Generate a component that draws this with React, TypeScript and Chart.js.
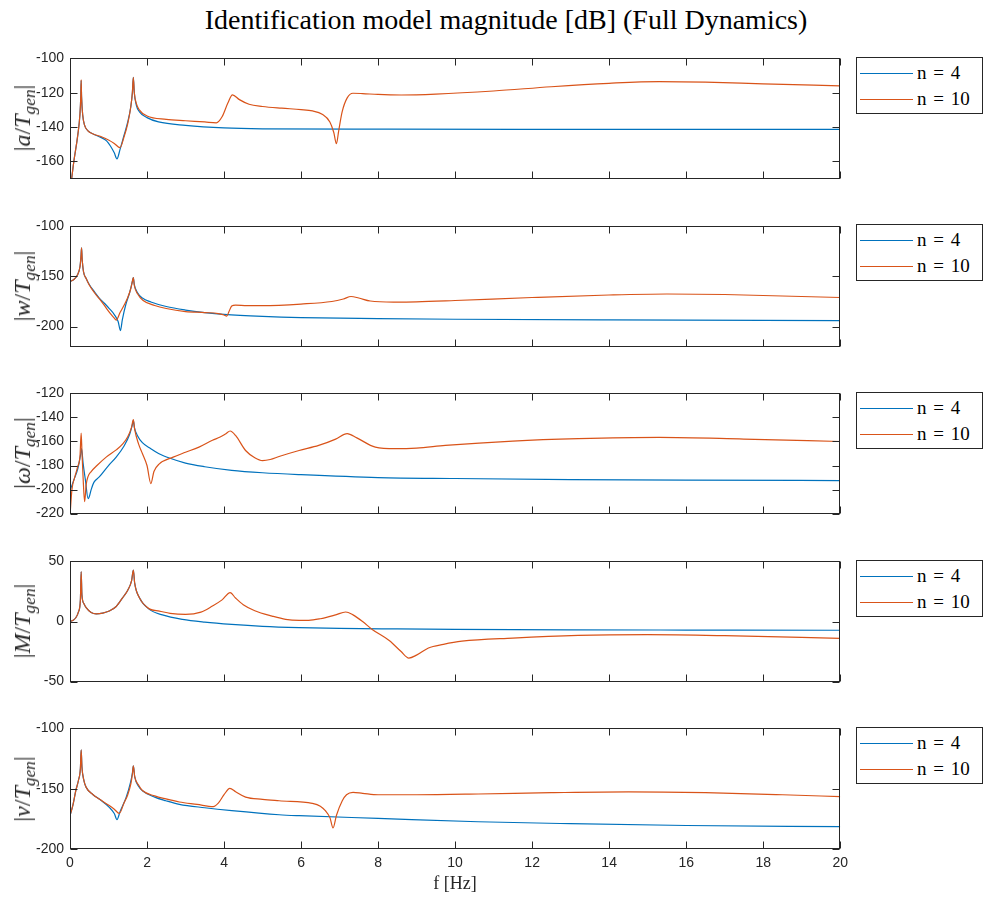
import React, { useEffect, useRef } from "react";
import { Chart, registerables } from "chart.js";
Chart.register(...registerables);

// ---------- data ----------
const TITLE = "Identification model magnitude [dB] (Full Dynamics)";
const X_LABEL = "f [Hz]";
const LEGEND_LABELS = ["n = 4", "n = 10"];
const X_TICKS = [0, 2, 4, 6, 8, 10, 12, 14, 16, 18, 20];

// |a/Tgen|
const A_TICKS = [-160, -140, -120, -100];
const A_N4: [number, number][] = [[0,-178],[0.1,-160],[0.2,-145],[0.26,-132],[0.28,-122],[0.29,-113],[0.3,-122],[0.33,-133],[0.38,-139],[0.46,-142],[0.6,-144],[0.8,-146],[0.95,-148],[1.05,-151],[1.15,-155],[1.22,-158.5],[1.3,-153],[1.4,-145],[1.5,-137],[1.58,-128],[1.62,-120],[1.645,-111],[1.67,-120],[1.72,-127],[1.8,-131],[2.0,-134.5],[2.3,-137],[3,-139],[4,-140.5],[5,-141],[8,-141.2],[12,-141.3],[20,-141.3]];
const A_N10: [number, number][] = [[0,-178],[0.1,-160],[0.2,-145],[0.26,-132],[0.28,-122],[0.29,-112.5],[0.3,-122],[0.33,-133],[0.38,-139],[0.46,-142],[0.6,-144],[0.8,-145.5],[1.0,-147.5],[1.15,-149.5],[1.3,-152],[1.4,-146],[1.5,-138],[1.58,-128],[1.62,-120],[1.645,-111],[1.67,-120],[1.72,-126],[1.8,-130],[2.0,-133.5],[2.5,-135.5],[3,-136.3],[3.5,-137],[3.8,-137.5],[3.95,-134],[4.1,-126],[4.22,-121.2],[4.4,-124],[4.65,-126.7],[5,-128],[5.5,-129],[6.0,-129.8],[6.3,-130.6],[6.55,-132.5],[6.75,-137],[6.85,-143],[6.92,-149.7],[6.98,-142],[7.07,-131],[7.2,-123],[7.35,-120.3],[7.6,-120.5],[8,-121],[8.6,-121.3],[9.5,-120.8],[11,-119],[12.5,-116.5],[14,-114.5],[15.3,-113.5],[16.5,-113.8],[18,-114.8],[20,-116]];

// |w/Tgen|
const W_TICKS = [-200, -150, -100];
const W_N4: [number, number][] = [[0,-155],[0.1,-153],[0.2,-148],[0.26,-140],[0.285,-130],[0.3,-121.5],[0.315,-132],[0.35,-145],[0.42,-152],[0.5,-158],[0.65,-166],[0.76,-171.5],[0.9,-177],[1.02,-182],[1.15,-188],[1.25,-195],[1.31,-204],[1.36,-193],[1.45,-178],[1.55,-166],[1.62,-155],[1.645,-151],[1.67,-158],[1.75,-166],[1.88,-171.5],[2.1,-175.5],[2.5,-180],[3.0,-183.5],[3.5,-186],[4,-187.8],[5,-189.8],[6,-191],[8,-192],[10,-192.7],[14,-193.4],[20,-194]];
const W_N10: [number, number][] = [[0,-155],[0.1,-153],[0.2,-148],[0.26,-140],[0.285,-130],[0.3,-121.5],[0.315,-132],[0.35,-145],[0.42,-152],[0.5,-158.5],[0.65,-167],[0.8,-174],[0.95,-182],[1.05,-187],[1.15,-191.5],[1.2,-193.5],[1.3,-186],[1.4,-179],[1.5,-171],[1.58,-162],[1.63,-153],[1.645,-151],[1.67,-159],[1.75,-167],[1.9,-174],[2.2,-179],[2.5,-182],[3.0,-185],[3.5,-186],[3.85,-187],[4.0,-188.5],[4.07,-189.5],[4.13,-185],[4.2,-179.5],[4.3,-178.5],[4.6,-179],[5,-179],[6,-177.5],[6.8,-175],[7.1,-172.5],[7.3,-170],[7.5,-171.5],[7.8,-174.5],[8.4,-175.5],[9,-175.3],[10,-174],[12,-171],[14,-168.5],[15.5,-167.5],[17,-168],[18.5,-169.5],[20,-171]];

// |omega/Tgen|
const O_TICKS = [-220, -200, -180, -160, -140, -120];
const O_N4: [number, number][] = [[0,-201],[0.1,-192],[0.2,-183],[0.27,-172],[0.3,-166],[0.34,-178],[0.4,-192],[0.47,-207.5],[0.5,-206],[0.55,-200],[0.62,-194],[0.76,-189.5],[1.0,-180],[1.2,-173],[1.4,-164],[1.55,-154],[1.62,-146],[1.645,-142.4],[1.67,-148],[1.75,-155],[1.88,-161],[2.1,-166],[2.3,-170],[2.6,-174],[3.0,-178],[3.5,-181],[4.2,-184],[5,-186],[6,-187.6],[8,-190],[10,-190.8],[13,-191.7],[16,-192.2],[20,-192.5]];
const O_N10: [number, number][] = [[0,-222],[0.05,-200],[0.12,-190],[0.2,-181],[0.26,-172],[0.29,-153],[0.31,-168],[0.34,-190],[0.38,-210],[0.42,-196],[0.47,-189],[0.55,-185],[0.7,-180],[0.94,-173],[1.2,-167],[1.37,-162],[1.5,-156],[1.6,-148],[1.645,-141.7],[1.68,-150],[1.78,-162],[1.88,-170],[2.0,-180],[2.1,-195],[2.18,-185],[2.32,-178.6],[2.68,-173],[3.0,-169],[3.35,-164.7],[3.7,-159],[3.9,-156.3],[4.05,-153.5],[4.16,-151.3],[4.3,-155],[4.56,-167.5],[4.8,-173.5],[5.0,-175.9],[5.2,-175],[5.43,-172.5],[5.95,-167.5],[6.46,-163.3],[6.9,-158],[7.2,-153.5],[7.45,-157],[7.93,-164.7],[8.45,-166],[9,-165.5],[9.75,-163.3],[11.5,-159.7],[13.2,-157.7],[15.3,-156.6],[17.5,-158],[20,-160]];

// |M/Tgen|
const M_TICKS = [-50, 0, 50];
const M_N4: [number, number][] = [[0,0],[0.08,1],[0.15,3.1],[0.22,8],[0.27,18],[0.29,41.6],[0.31,22],[0.36,15],[0.42,11.5],[0.55,7.5],[0.68,6.4],[0.85,7],[1.02,8.7],[1.2,12.5],[1.37,19.9],[1.5,26],[1.6,34],[1.645,42.8],[1.68,32],[1.8,19.9],[2.06,10.1],[2.4,5.5],[2.92,1.8],[3.5,-0.5],[4.2,-2.4],[5,-4],[5.95,-5.1],[7,-5.8],[8.5,-6.2],[10,-6.5],[13,-6.9],[16,-7.1],[20,-7.3]];
const M_N10: [number, number][] = [[0,0],[0.08,1],[0.15,3.1],[0.22,8],[0.27,18],[0.29,41.6],[0.31,22],[0.36,15],[0.42,11.5],[0.55,7.5],[0.68,6.4],[0.85,7],[1.02,8.7],[1.2,12.5],[1.37,19.9],[1.5,26],[1.6,34],[1.645,42.8],[1.68,32],[1.8,19.9],[2.06,10.5],[2.32,8.7],[2.6,6.8],[3.0,5.9],[3.4,7.8],[3.7,12.9],[3.95,18],[4.16,24],[4.3,19.5],[4.5,14],[4.8,9],[5.25,4.5],[5.6,1.8],[5.95,1.0],[6.2,1.0],[6.5,2.3],[6.9,5.5],[7.16,7.9],[7.35,5.5],[7.6,0],[7.85,-6.6],[8.3,-16],[8.6,-25],[8.8,-30.4],[9.0,-28],[9.31,-22],[9.7,-19],[10.18,-16.4],[11.5,-13.8],[13.2,-11.6],[15,-11],[17,-11.8],[20,-14]];

// |v/Tgen|
const V_TICKS = [-200, -150, -100];
const V_N4: [number, number][] = [[0,-172.4],[0.08,-163],[0.15,-151.7],[0.22,-143],[0.27,-133],[0.29,-117.7],[0.31,-132],[0.36,-143],[0.42,-148.9],[0.6,-155],[0.76,-158.6],[1.02,-165.5],[1.15,-170.5],[1.22,-175.7],[1.3,-169],[1.46,-157],[1.57,-145],[1.62,-137],[1.645,-131],[1.68,-140],[1.78,-148],[1.88,-151.7],[2.2,-157],[2.49,-160],[2.84,-163],[3.5,-165.8],[4.2,-168.2],[5.43,-171.6],[5.95,-172.4],[8,-174.6],[10.6,-177.4],[13,-179],[16,-180.5],[20,-181.5]];
const V_N10: [number, number][] = [[0,-172.4],[0.08,-163],[0.15,-151.7],[0.22,-143],[0.27,-133],[0.29,-117.7],[0.31,-132],[0.36,-143],[0.42,-148.9],[0.6,-155],[0.76,-158.6],[1.02,-164],[1.15,-167],[1.28,-170.5],[1.4,-162],[1.5,-155],[1.58,-146],[1.62,-138],[1.645,-131],[1.68,-140],[1.78,-147],[1.88,-151.5],[2.2,-156],[2.49,-158.5],[2.84,-161],[3.3,-163],[3.72,-164.9],[3.85,-162],[4.0,-155],[4.15,-149.7],[4.3,-152.5],[4.56,-157],[5,-158.8],[5.43,-160],[6.29,-162.2],[6.5,-164.5],[6.63,-168.2],[6.75,-174],[6.83,-182.6],[6.92,-172],[7.07,-160],[7.18,-155],[7.35,-153],[7.6,-153.8],[8,-155],[9,-155],[10.6,-154.4],[12.5,-153.3],[14.5,-152.6],[16.5,-153.3],[18.5,-155],[20,-156.6]];

// ---------- styles ----------
const BLUE = "#0072BD";
const ORANGE = "#D95319";
const AXIS = "#262626";
const SANS = '"Liberation Sans", Arial, sans-serif';
const SERIF = '"Liberation Serif", "Times New Roman", serif';
const PLOT_LEFT = 70;
const PLOT_W = 770;

const boxPlugin = {
  id: "matlabBox",
  afterDraw(chart: any) {
    const { ctx, chartArea, scales } = chart;
    const { left, right, top, bottom } = chartArea;
    const L = Math.round(left) + 0.5, R = Math.round(right) - 0.5;
    const T = Math.round(top) + 0.5, B = Math.round(bottom) - 0.5;
    const tl = 7;
    ctx.save();
    ctx.strokeStyle = AXIS;
    ctx.lineWidth = 1;
    ctx.beginPath();
    scales.x.ticks.forEach((t: any) => {
      const px = Math.round(scales.x.getPixelForValue(t.value)) + 0.5;
      ctx.moveTo(px, B); ctx.lineTo(px, B - tl);
      ctx.moveTo(px, T); ctx.lineTo(px, T + tl);
    });
    scales.y.ticks.forEach((t: any) => {
      const py = Math.round(scales.y.getPixelForValue(t.value)) + 0.5;
      ctx.moveTo(L, py); ctx.lineTo(L + tl, py);
      ctx.moveTo(R, py); ctx.lineTo(R - tl, py);
    });
    ctx.stroke();
    ctx.strokeRect(L, T, R - L, B - T);
    ctx.restore();
  },
};

type PanelProps = {
  n4: [number, number][];
  n10: [number, number][];
  yMin: number;
  yMax: number;
  yTicks: number[];
  plotTop: number;
  plotHeight: number;
  showX: boolean;
  label: React.ReactNode;
  legendTop: number;
};

function Panel({ n4, n10, yMin, yMax, yTicks, plotTop, plotHeight, showX, label, legendTop }: PanelProps) {
  const ref = useRef<HTMLCanvasElement>(null);
  const xH = showX ? 50 : 2;
  const cw = 860;
  const ch = 20 + plotHeight + xH + 20;
  useEffect(() => {
    const canvas = ref.current;
    if (!canvas) return;
    const chart = new Chart(canvas, {
      type: "line",
      data: {
        datasets: [
          { label: LEGEND_LABELS[0], data: n4.map(([x, y]) => ({ x, y })), borderColor: BLUE, backgroundColor: BLUE, borderWidth: 1.2, pointRadius: 0, cubicInterpolationMode: "monotone", order: 1 },
          { label: LEGEND_LABELS[1], data: n10.map(([x, y]) => ({ x, y })), borderColor: ORANGE, backgroundColor: ORANGE, borderWidth: 1.2, pointRadius: 0, cubicInterpolationMode: "monotone", order: 0 },
        ],
      },
      options: {
        responsive: false,
        maintainAspectRatio: false,
        animation: false,
        events: [],
        layout: { padding: { top: 10, right: 10, left: 0, bottom: 0 } },
        plugins: { legend: { display: false }, tooltip: { enabled: false }, title: { display: false } },
        scales: {
          x: {
            type: "linear",
            min: 0,
            max: 20,
            afterBuildTicks: (s: any) => { s.ticks = X_TICKS.map((v) => ({ value: v })); },
            afterFit: (s: any) => { s.height = xH; },
            grid: { display: false, drawTicks: false },
            border: { display: false },
            ticks: { display: showX, padding: 6, color: AXIS, maxRotation: 0, autoSkip: false, font: { family: SANS, size: 14 } },
            title: { display: showX, text: X_LABEL, color: AXIS, font: { family: SERIF, size: 18 }, padding: { top: 2, bottom: 4 } },
          },
          y: {
            type: "linear",
            min: yMin,
            max: yMax,
            afterBuildTicks: (s: any) => { s.ticks = yTicks.map((v) => ({ value: v })); },
            afterFit: (s: any) => { s.width = 70; },
            grid: { display: false, drawTicks: false },
            border: { display: false },
            ticks: { padding: 6, color: AXIS, autoSkip: false, font: { family: SANS, size: 14 } },
          },
        },
      } as any,
      plugins: [boxPlugin],
    });
    for (let k = 0; k < 3; k++) {
      const a = chart.chartArea;
      const topPad = a.top, botPad = chart.height - a.bottom;
      const leftPad = a.left, rightPad = chart.width - a.right;
      const W = Math.round(leftPad + PLOT_W + rightPad);
      const H = Math.round(topPad + plotHeight + botPad);
      if (W !== chart.width || H !== chart.height) chart.resize(W, H);
    }
    chart.update();
    const b = chart.chartArea;
    canvas.style.left = `${PLOT_LEFT - b.left}px`;
    canvas.style.top = `${plotTop - b.top}px`;
    return () => chart.destroy();
  }, []);

  const midY = plotTop + plotHeight / 2;
  return (
    <>
      <canvas ref={ref} width={cw} height={ch} style={{ position: "absolute", left: 0, top: plotTop - 10 }} />
      <div style={{ position: "absolute", left: 22, top: midY, transform: "translate(-50%, -50%) rotate(-90deg)", whiteSpace: "nowrap", fontFamily: SERIF, fontSize: 24, color: AXIS, lineHeight: "28px" }}>
        {label}
      </div>
      <div style={{ position: "absolute", left: 856, top: legendTop, width: 127, height: 57, border: `1px solid ${AXIS}`, boxSizing: "border-box", background: "#fff" }}>
        {[BLUE, ORANGE].map((c, i) => (
          <div key={i} style={{ position: "absolute", left: 3, top: 4 + i * 26, height: 22, display: "flex", alignItems: "center" }}>
            <div style={{ width: 53, height: 1, background: c }} />
            <span style={{ marginLeft: 4, fontFamily: SERIF, fontSize: 19, color: "#000", wordSpacing: 2, whiteSpace: "pre" }}>{LEGEND_LABELS[i]}</span>
          </div>
        ))}
      </div>
    </>
  );
}

const Lbl = ({ v }: { v: string }) => (
  <span>|<i>{v}</i>/<i>T</i><sub style={{ fontSize: "0.72em", verticalAlign: "-0.3em", lineHeight: 0 }}><i>gen</i></sub>|</span>
);

export default function App() {
  return (
    <div style={{ position: "absolute", left: 0, top: 0, width: 983, height: 897, background: "#fff", overflow: "hidden" }}>
      <div style={{ position: "absolute", left: 506, top: 3, transform: "translateX(-50%)", whiteSpace: "nowrap", fontFamily: SERIF, fontSize: 28, lineHeight: "34px", color: "#000" }}>
        {TITLE}
      </div>
      <Panel n4={A_N4} n10={A_N10} yMin={-170} yMax={-100} yTicks={A_TICKS} plotTop={58} plotHeight={120} showX={false} label={<Lbl v="a" />} legendTop={57} />
      <Panel n4={W_N4} n10={W_N10} yMin={-220} yMax={-100} yTicks={W_TICKS} plotTop={226} plotHeight={120} showX={false} label={<Lbl v="w" />} legendTop={224} />
      <Panel n4={O_N4} n10={O_N10} yMin={-220} yMax={-120} yTicks={O_TICKS} plotTop={393} plotHeight={120} showX={false} label={<Lbl v="ω" />} legendTop={392} />
      <Panel n4={M_N4} n10={M_N10} yMin={-50} yMax={50} yTicks={M_TICKS} plotTop={561} plotHeight={120} showX={false} label={<Lbl v="M" />} legendTop={560} />
      <Panel n4={V_N4} n10={V_N10} yMin={-200} yMax={-100} yTicks={V_TICKS} plotTop={728} plotHeight={121} showX={true} label={<Lbl v="v" />} legendTop={727} />
    </div>
  );
}
